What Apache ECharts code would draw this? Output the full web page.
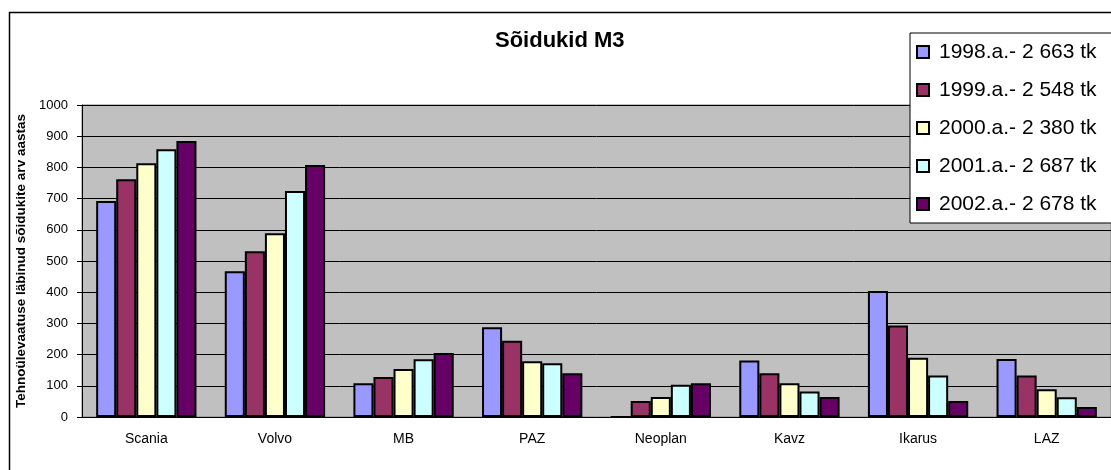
<!DOCTYPE html>
<html>
<head>
<meta charset="utf-8">
<script src="https://cdn.jsdelivr.net/npm/echarts@6/dist/echarts.min.js"></script>
<style>
html,body{margin:0;padding:0;background:#fff;}
#chart{width:1111px;height:470px;}
</style>
</head>
<body>
<div id="chart"></div>
<script>
const categories = ['Scania', 'Volvo', 'MB', 'PAZ', 'Neoplan', 'Kavz', 'Ikarus', 'LAZ'];
const seriesNames = ['1998.a.- 2 663 tk', '1999.a.- 2 548 tk', '2000.a.- 2 380 tk', '2001.a.- 2 687 tk', '2002.a.- 2 678 tk'];
const v1998 = [692, 467, 108, 288, 0, 181, 404, 186];
const v1999 = [762, 531, 128, 244, 51, 140, 293, 133];
const v2000 = [813, 589, 154, 179, 64, 108, 190, 89];
const v2001 = [858, 724, 185, 172, 103, 82, 133, 63];
const v2002 = [885, 808, 205, 140, 108, 64, 51, 32];
const colors = ['#9999FF', '#993366', '#FFFFCC', '#CCFFFF', '#660066'];
const titleText = 'Sõidukid M3';
const yAxisName = 'Tehnoülevaatuse läbinud sõidukite arv aastas';

const allValues = [v1998, v1999, v2000, v2001, v2002];
const FONT = 'Liberation Sans, Arial, sans-serif';

const chart = echarts.init(document.getElementById('chart'), null, {renderer: 'canvas'});
chart.setOption({
  animation: false,
  backgroundColor: '#ffffff',
  title: {
    text: titleText,
    left: 495,
    top: 30,
    padding: 0,
    textStyle: {fontFamily: FONT, fontSize: 22, fontWeight: 'bold', color: '#000'}
  },
  graphic: [{
    type: 'rect',
    left: 7, top: 10,
    shape: {width: 1200, height: 500},
    style: {fill: null, stroke: '#000', lineWidth: 1.5},
    silent: true,
    z: -10
  }],
  legend: {
    orient: 'vertical',
    left: 910,
    top: 33,
    padding: [7, 30, 7, 6],
    itemGap: 14,
    itemWidth: 12,
    itemHeight: 12,
    icon: 'rect',
    backgroundColor: '#ffffff',
    borderColor: '#000',
    borderWidth: 1,
    textStyle: {fontFamily: FONT, fontSize: 21, color: '#000', lineHeight: 24, padding: [0, 0, 0, 5]},
    data: seriesNames,
    z: 10
  },
  grid: {
    left: 82, right: 0, top: 105, bottom: 53,
    show: true,
    backgroundColor: '#C0C0C0',
    borderColor: '#808080',
    borderWidth: 1
  },
  xAxis: {
    type: 'category',
    data: categories,
    axisLine: {lineStyle: {color: '#000', width: 1}},
    axisTick: {length: 5, lineStyle: {color: '#000'}},
    axisLabel: {fontFamily: FONT, fontSize: 14, color: '#000', margin: 15}
  },
  yAxis: {
    type: 'value',
    min: 0, max: 1000, interval: 100,
    name: yAxisName,
    nameLocation: 'middle',
    nameGap: 53,
    nameTextStyle: {fontFamily: FONT, fontSize: 13.5, fontWeight: 'bold', color: '#000'},
    axisLine: {show: true, lineStyle: {color: '#000', width: 1}},
    axisTick: {show: true, length: 5, lineStyle: {color: '#000'}},
    axisLabel: {fontFamily: FONT, fontSize: 13, color: '#000', margin: 14, formatter: v => String(v)},
    splitLine: {show: true, lineStyle: {color: '#000', width: 1}}
  },
  series: seriesNames.map((name, i) => ({
    name: name,
    type: 'bar',
    data: allValues[i],
    barGap: '0%',
    barCategoryGap: '22%',
    itemStyle: {color: colors[i], borderColor: '#000', borderWidth: 2}
  }))
});
</script>
</body>
</html>
